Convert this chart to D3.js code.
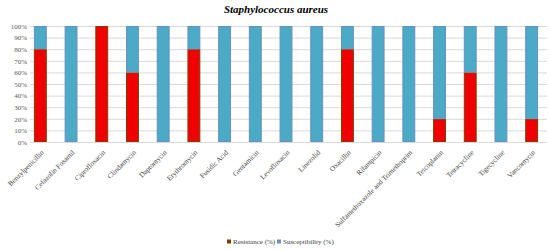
<!DOCTYPE html>
<html>
<head>
<meta charset="utf-8">
<script src="https://cdn.jsdelivr.net/npm/d3@7"></script>
<style>
body { margin: 0; background: #fff; }
text { font-family: "Liberation Serif", serif; }
</style>
</head>
<body>
<div id="chart"></div>
<script>
const w = 550;
const h = 250;
const xLeft = 25;
const xRight = 547;
const yTop = 26;
const yBottom = 142;

// data
const antibiotics = ["Benzylpenicillin", "Cefazolin Fosamil", "Ciprofloxacin", "Clindamycin",
  "Daptomycin", "Erythromycin", "Fusidic Acid", "Gentamicin", "Levofloxacin", "Linezolid",
  "Oxacillin", "Rifampicin", "Sulfamethoxazole and Trimethoprim", "Teicoplanin",
  "Tetracycline", "Tigecycline", "Vancomycin"];
const resistance = [80, 0, 100, 60, 0, 80, 0, 0, 0, 0, 80, 0, 0, 20, 60, 0, 20];
const susceptibility = [20, 100, 0, 40, 100, 20, 100, 100, 100, 100, 20, 100, 100, 80, 40, 100, 80];
const yTicks = [0, 10, 20, 30, 40, 50, 60, 70, 80, 90, 100];
const seriesNames = ["Resistance (%)", "Susceptibility (%)"];

const fills = ["#f00000", "#4baac6"];
const strokes = ["#7f3f00", "#6b8ec6"];

const svg = d3.select("#chart").append("svg")
  .attr("width", w).attr("height", h);

const xScale = d3.scaleBand()
  .domain(antibiotics)
  .range([xLeft, xRight])
  .paddingInner(0.58)
  .paddingOuter(0.29);

const yScale = d3.scaleLinear()
  .domain([0, 100])
  .range([yBottom, yTop]);

//Title
svg.append("text")
  .attr("x", 276).attr("y", 13)
  .attr("text-anchor", "middle")
  .style("font-size", "11px")
  .style("font-weight", "bold")
  .style("font-style", "italic")
  .text("Staphylococcus aureus");

//Gridlines
svg.append("g")
  .selectAll("line")
  .data(yTicks)
  .enter().append("line")
  .attr("x1", 30).attr("x2", xRight)
  .attr("y1", d => yScale(d) + 0.5).attr("y2", d => yScale(d) + 0.5)
  .attr("stroke", "#d9d9d9").attr("stroke-width", 1);

//y axis
const yAxis = d3.axisLeft(yScale)
  .tickValues(yTicks)
  .tickFormat(d => d + "%")
  .tickSize(0)
  .tickPadding(3);
const gy = svg.append("g")
  .attr("transform", `translate(30,0)`)
  .call(yAxis);
gy.select(".domain").remove();
gy.selectAll("text")
  .style("font-family", "'Liberation Serif', serif")
  .style("font-size", "7px")
  .attr("fill", "#595959");

//Stacked bars
const rows = antibiotics.map((a, i) => ({ name: a, r: resistance[i], s: susceptibility[i] }));
const stack = d3.stack().keys(["r", "s"]);
const layers = stack(rows);

svg.append("g")
  .selectAll("g")
  .data(layers)
  .enter().append("g")
  .attr("fill", (d, i) => fills[i])
  .attr("stroke", (d, i) => strokes[i])
  .attr("stroke-width", 1)
  .selectAll("rect")
  .data(d => d.filter(p => p[1] - p[0] > 0))
  .enter().append("rect")
  .attr("x", d => xScale(d.data.name) + 0.5)
  .attr("width", xScale.bandwidth() - 1)
  .attr("y", d => yScale(d[1]) + 0.5)
  .attr("height", d => yScale(d[0]) - yScale(d[1]) - 1);

//x axis labels
const xAxis = d3.axisBottom(xScale).tickSize(0).tickPadding(0);
const gx = svg.append("g")
  .attr("transform", `translate(0,${yBottom})`)
  .call(xAxis);
gx.select(".domain").remove();
gx.selectAll("text")
  .style("font-family", "'Liberation Serif', serif")
  .style("font-size", "7.2px")
  .attr("fill", "#404040")
  .attr("text-anchor", "end")
  .attr("dy", null)
  .attr("y", 0)
  .attr("transform", "translate(4,11) rotate(-45)");

//Legend
const legend = svg.append("g").attr("id", "legend");
const legX = [227, 277];
seriesNames.forEach((name, i) => {
  legend.append("rect")
    .attr("x", legX[i]).attr("y", 239.5)
    .attr("width", 4).attr("height", 4)
    .attr("fill", i === 0 ? strokes[0] : strokes[1]);
  legend.append("text")
    .attr("x", legX[i] + 6).attr("y", 244)
    .style("font-size", "7px")
    .attr("fill", "#404040")
    .text(name);
});
</script>
</body>
</html>
